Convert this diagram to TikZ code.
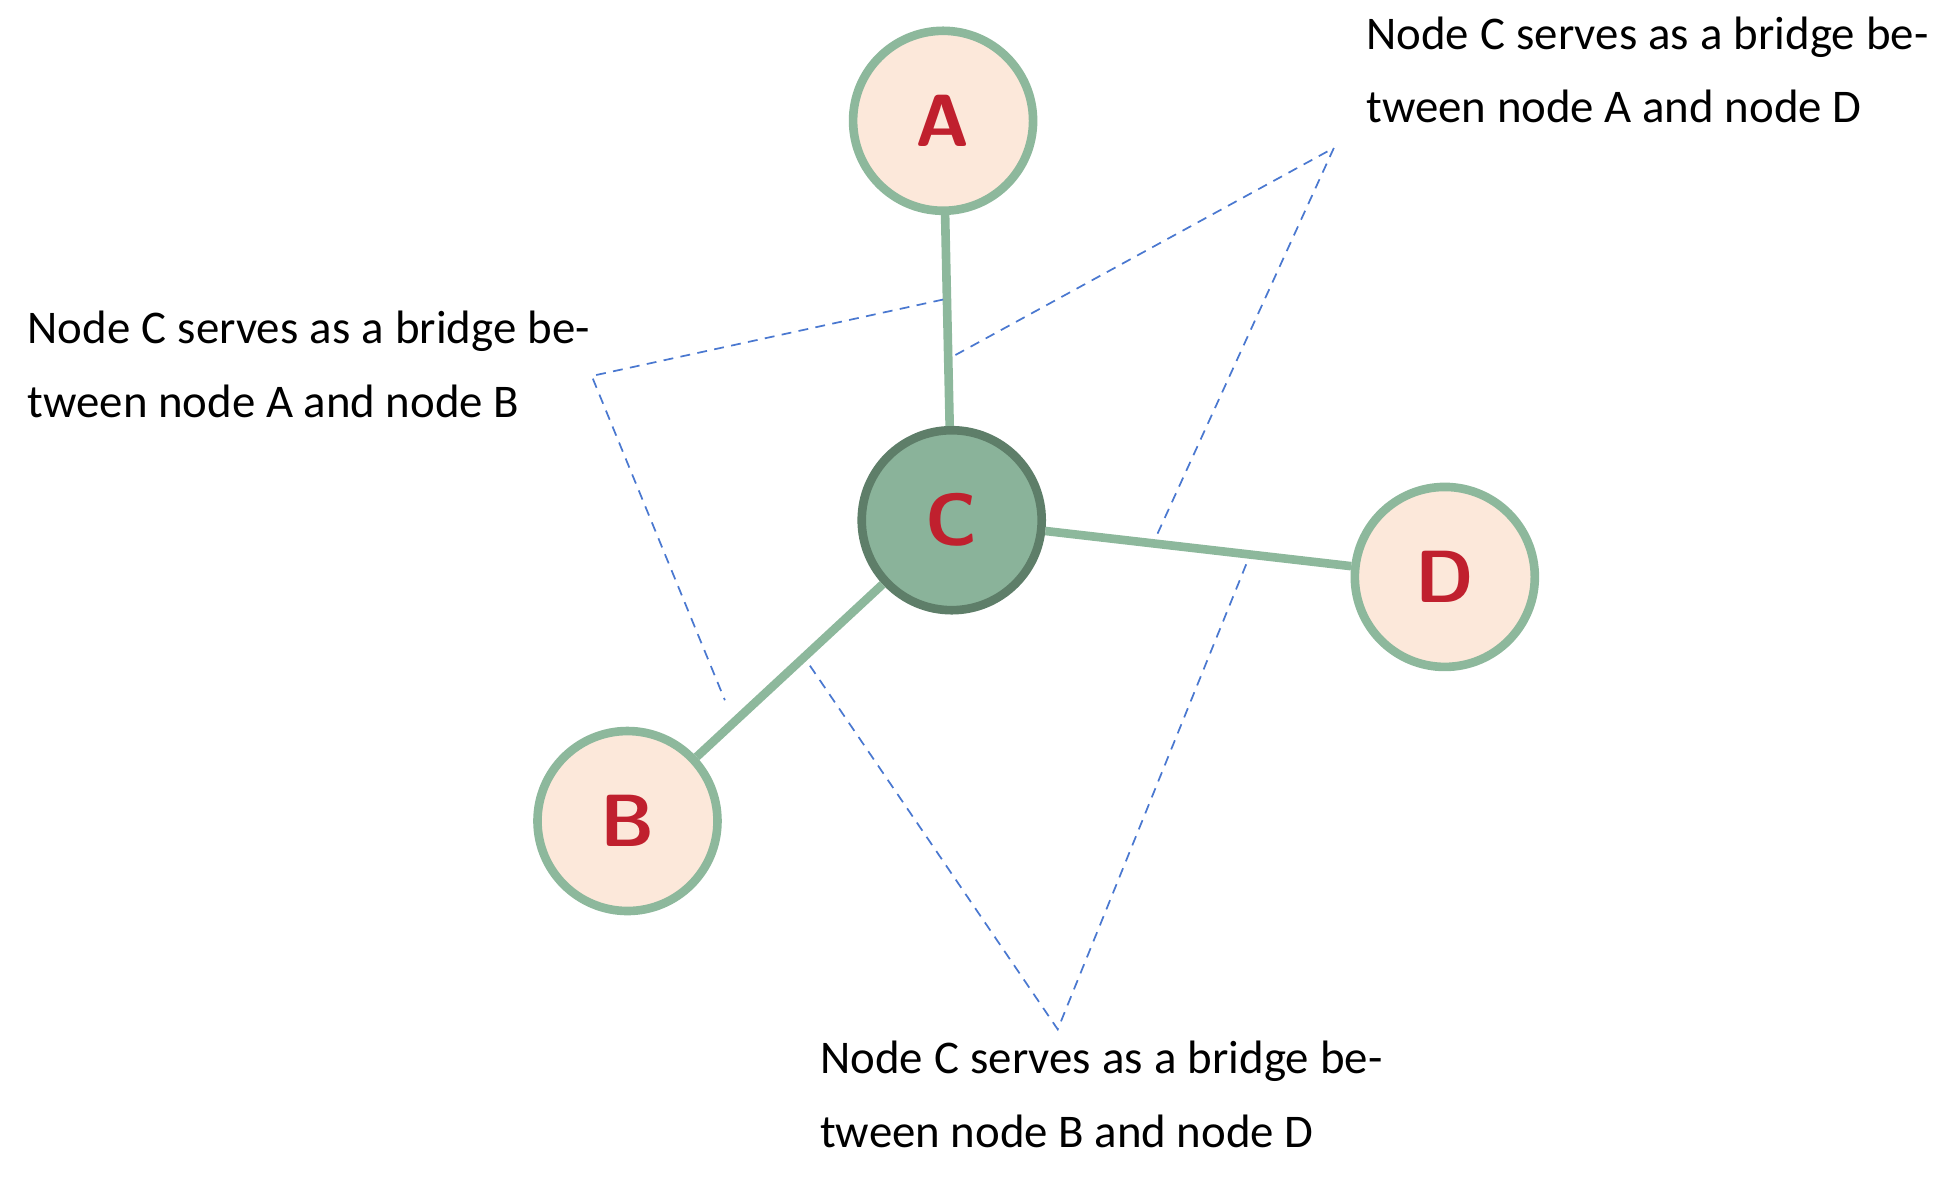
\documentclass[tikz,border=0pt]{standalone}
\usepackage{fontspec}
\setmainfont{Carlito}
\definecolor{ring}{HTML}{8DB89C}
\definecolor{fillL}{HTML}{FCE8DA}
\definecolor{fillC}{HTML}{8AB39A}
\definecolor{ringC}{HTML}{5E7E69}
\definecolor{lbl}{HTML}{C0202E}
\definecolor{dash}{HTML}{4A78D0}
\begin{document}
\begin{tikzpicture}[x=0.5pt,y=0.5pt,
  nd/.style={circle,draw=ring,line width=3.5pt,fill=fillL,minimum size=73pt,inner sep=0pt,
    font=\fontsize{30}{30}\selectfont\bfseries\sffamily,text=lbl},
  ed/.style={draw=ring,line width=3.5pt},
  dl/.style={draw=dash,dashed,line width=0.7pt,dash pattern=on 4pt off 3pt},
  tx/.style={anchor=north west,inner sep=0pt,text width=228pt,align=justify,
    font=\fontsize{19}{30}\selectfont}]
\useasboundingbox (0,0) rectangle (1568,957);
\node[nd] (A) at (765,859) {A};
\node[nd,fill=fillC,draw=ringC] (C) at (772,535) {C};
\node[nd] (D) at (1172,489) {D};
\node[nd] (B) at (509,291) {B};
\draw[ed] (A) -- (C);
\draw[ed] (C) -- (D);
\draw[ed] (C) -- (B);
\coordinate (p1) at (480,652);
\coordinate (p1a) at (765,714);
\coordinate (p1b) at (588,389);
\coordinate (p2) at (1082,837);
\coordinate (p2a) at (775,669);
\coordinate (p2b) at (938,522);
\coordinate (p3) at (858,122);
\coordinate (p3a) at (657,417);
\coordinate (p3b) at (1012,502);
\draw[dl] (p1a) -- (p1) -- (p1b);
\draw[dl] (p2a) -- (p2) -- (p2b);
\draw[dl] (p3a) -- (p3) -- (p3b);
\node[tx] (t1) at (22,705) {Node C serves as a bridge between node A and node B};
\node[tx] (t2) at (1108,944) {Node C serves as a bridge between node A and node D};
\node[tx] (t3) at (665,113) {Node C serves as a bridge between node B and node D};
\end{tikzpicture}
\end{document}
